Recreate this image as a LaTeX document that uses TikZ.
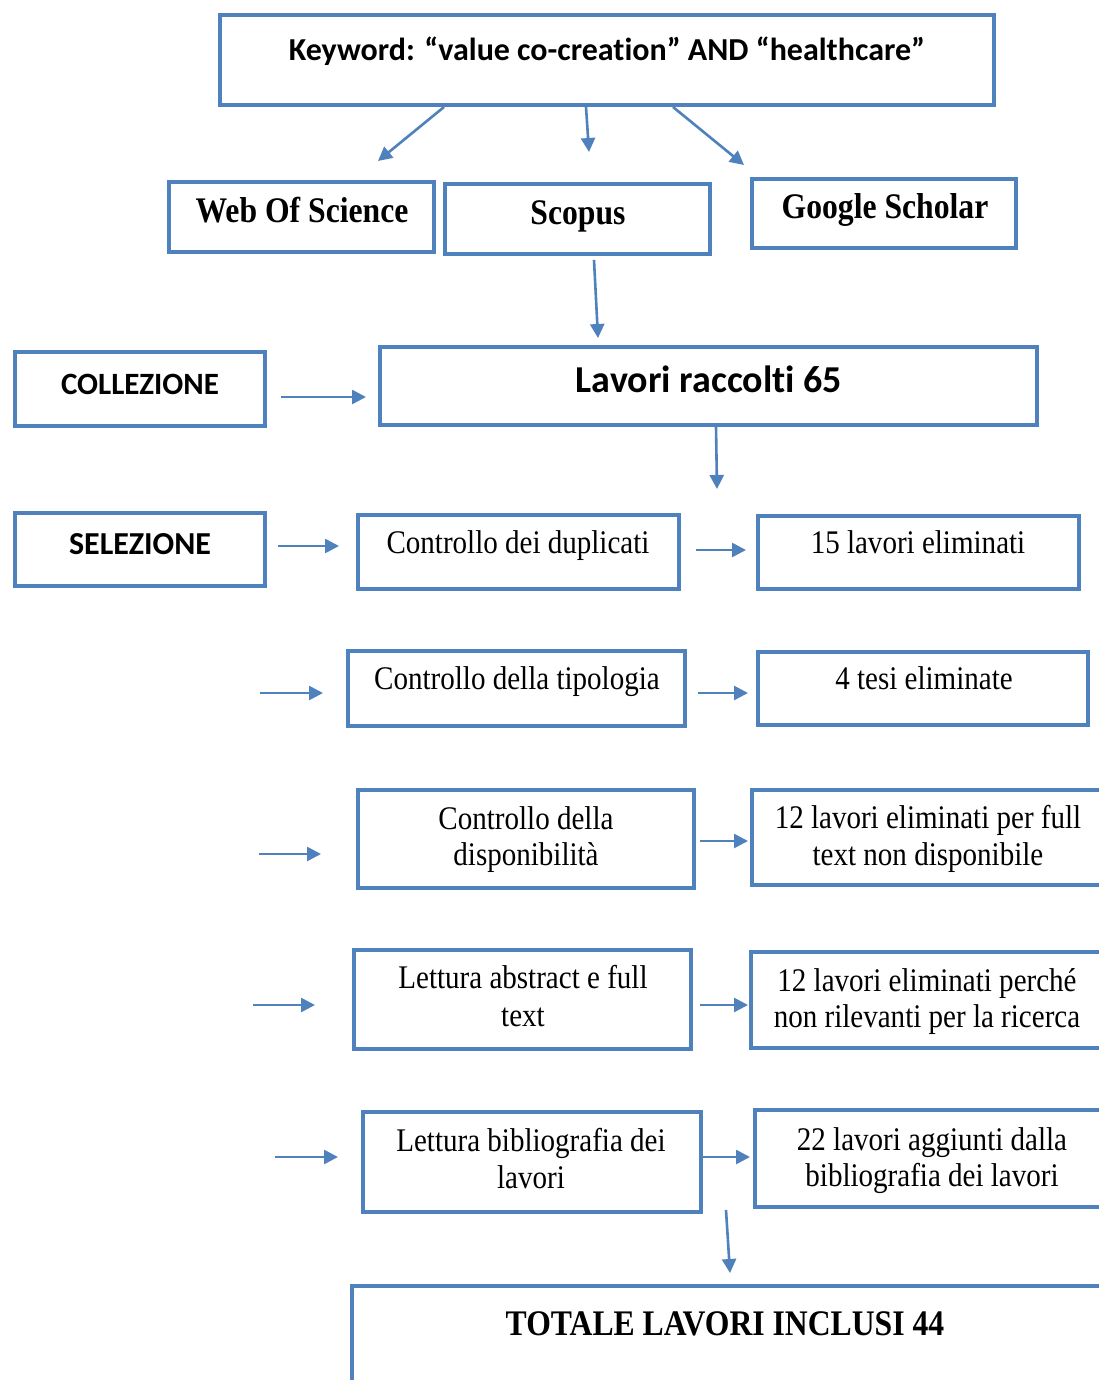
\documentclass[tikz,border=0pt]{standalone}
\usepackage{fontspec}
\usetikzlibrary{arrows.meta,fit}
\newfontfamily\serifc[FakeStretch=0.88]{Liberation Serif}
\newfontfamily\sansc[Ligatures=NoCommon]{Carlito}
\definecolor{obl}{HTML}{4F81BD}
\begin{document}
\begin{tikzpicture}[x=1pt,y=-1pt,
  box/.style={draw=obl,line width=4pt,inner sep=0pt},
  arr/.style={draw=obl,line width=2.6pt,-{Triangle[length=14pt,width=14pt]}},
  txt/.style={anchor=base,inner sep=0pt,font=\serifc\fontsize{33}{37}\selectfont},
  txtb/.style={anchor=base,inner sep=0pt,font=\serifc\bfseries\fontsize{36}{40}\selectfont},
  hdr/.style={anchor=base,inner sep=0pt,font=\sansc\bfseries\fontsize{31}{36}\selectfont}]
\clip (0,0) rectangle (1099,1380);
\useasboundingbox (0,0) rectangle (1099,1380);
\fill[white] (0,0) rectangle (1099,1380);

% boxes
\node[box,fit={(220,15) (994,105)}] (kw) {};
\node[box,fit={(169,182) (434,252)}] (wos) {};
\node[box,fit={(445,184) (710,254)}] (sco) {};
\node[box,fit={(752,179) (1016,248)}] (gs) {};
\node[box,fit={(15,352) (265,426)}] (coll) {};
\node[box,fit={(380,347) (1037,425)}] (lav) {};
\node[box,fit={(15,513) (265,586)}] (sel) {};
\node[box,fit={(358,515) (679,589)}] (dup) {};
\node[box,fit={(758,516) (1079,589)}] (e15) {};
\node[box,fit={(348,651) (685,726)}] (tip) {};
\node[box,fit={(758,652) (1088,725)}] (e4) {};
\node[box,fit={(358,790) (694,888)}] (disp) {};
\node[box,fit={(752,790) (1112,885)}] (e12a) {};
\node[box,fit={(354,950) (691,1049)}] (abs) {};
\node[box,fit={(751,952) (1112,1048)}] (e12b) {};
\node[box,fit={(363,1112) (701,1212)}] (bib) {};
\node[box,fit={(755,1110) (1112,1207)}] (e22) {};
\node[box,fit={(352,1286) (1112,1402)}] (tot) {};

% texts
\node[hdr,font=\sansc\bfseries\fontsize{32}{36}\selectfont] (tkw) at (607,61) {Keyword: “value co-creation” AND “healthcare”};
\node[txtb] (twos) at (302,223) {Web Of Science};
\node[txtb] (tsco) at (578,225) {Scopus};
\node[txtb] (tgs) at (885,219) {Google Scholar};
\node[hdr] (tcoll) at (140,394) {COLLEZIONE};
\node[hdr,font=\sansc\bfseries\fontsize{38}{42}\selectfont] (tlav) at (709,392) {Lavori raccolti 65};
\node[hdr,font=\sansc\bfseries\fontsize{32}{36}\selectfont] (tsel) at (140,554) {SELEZIONE};
\node[txt] (tdup) at (518,553) {Controllo dei duplicati};
\node[txt] (te15) at (918,553) {15 lavori eliminati};
\node[txt] (ttip) at (517,689) {Controllo della tipologia};
\node[txt] (te4) at (924,689) {4 tesi eliminate};
\node[txt] (tdisp1) at (526,829) {Controllo della};
\node[txt] (tdisp2) at (526,865) {disponibilità};
\node[txt] (te12a1) at (928,828) {12 lavori eliminati per full};
\node[txt] (te12a2) at (928,865) {text non disponibile};
\node[txt] (tabs1) at (523,988) {Lettura abstract e full};
\node[txt] (tabs2) at (523,1026) {text};
\node[txt] (te12b1) at (927,991) {12 lavori eliminati perché};
\node[txt] (te12b2) at (927,1027) {non rilevanti per la ricerca};
\node[txt] (tbib1) at (531,1151) {Lettura bibliografia dei};
\node[txt] (tbib2) at (531,1188) {lavori};
\node[txt] (te221) at (932,1150) {22 lavori aggiunti dalla};
\node[txt] (te222) at (932,1186) {bibliografia dei lavori};
\node[txtb] (ttot) at (725,1335) {TOTALE LAVORI INCLUSI 44};

% free ends
\coordinate (d1) at (717,489);
\coordinate (f1) at (260,693);
\coordinate (f2) at (259,854);
\coordinate (f3) at (253,1005);
\coordinate (f4) at (275,1157);
\coordinate (f5) at (726,1210);

% connectors
\draw[arr] ([xshift=-163]kw.south) -- ([xshift=76.5,yshift=19]wos.north);
\draw[arr] ([xshift=-21]kw.south) -- ([xshift=11.5,yshift=30]sco.north);
\draw[arr] ([xshift=66]kw.south) -- ([xshift=-6,yshift=12]gs.north west);
\draw[arr] ([xshift=16.5,yshift=-4]sco.south) -- ([xshift=-110.5,yshift=7]lav.north);
\draw[arr] ([xshift=14,yshift=-8]coll.east) -- ([xshift=-12,yshift=-11]lav.west);
\draw[arr] ([xshift=7.5]lav.south) -- (d1);
\draw[arr] ([xshift=11,yshift=3.5]sel.east) -- ([xshift=-17,yshift=6]dup.west);
\draw[arr] ([xshift=15,yshift=2]dup.east) -- ([xshift=-10,yshift=2.5]e15.west);
\draw[arr] (f1) -- ([xshift=-23,yshift=-4.5]tip.west);
\draw[arr] ([xshift=11,yshift=-4.5]tip.east) -- ([xshift=-8,yshift=-4.5]e4.west);
\draw[arr] (f2) -- ([xshift=-35,yshift=-15]disp.west);
\draw[arr] ([xshift=4,yshift=-2]disp.east) -- ([xshift=-2,yshift=-3.5]e12a.west);
\draw[arr] (f3) -- ([xshift=-37,yshift=-5.5]abs.west);
\draw[arr] ([xshift=7,yshift=-5.5]abs.east) -- ([xshift=-1,yshift=-5]e12b.west);
\draw[arr] (f4) -- ([xshift=-23,yshift=5]bib.west);
\draw[arr] ([xshift=-4,yshift=5]bib.east) -- ([xshift=-3,yshift=1.5]e22.west);
\draw[arr] (f5) -- ([xshift=-2,yshift=11]tot.north);
\end{tikzpicture}
\end{document}
